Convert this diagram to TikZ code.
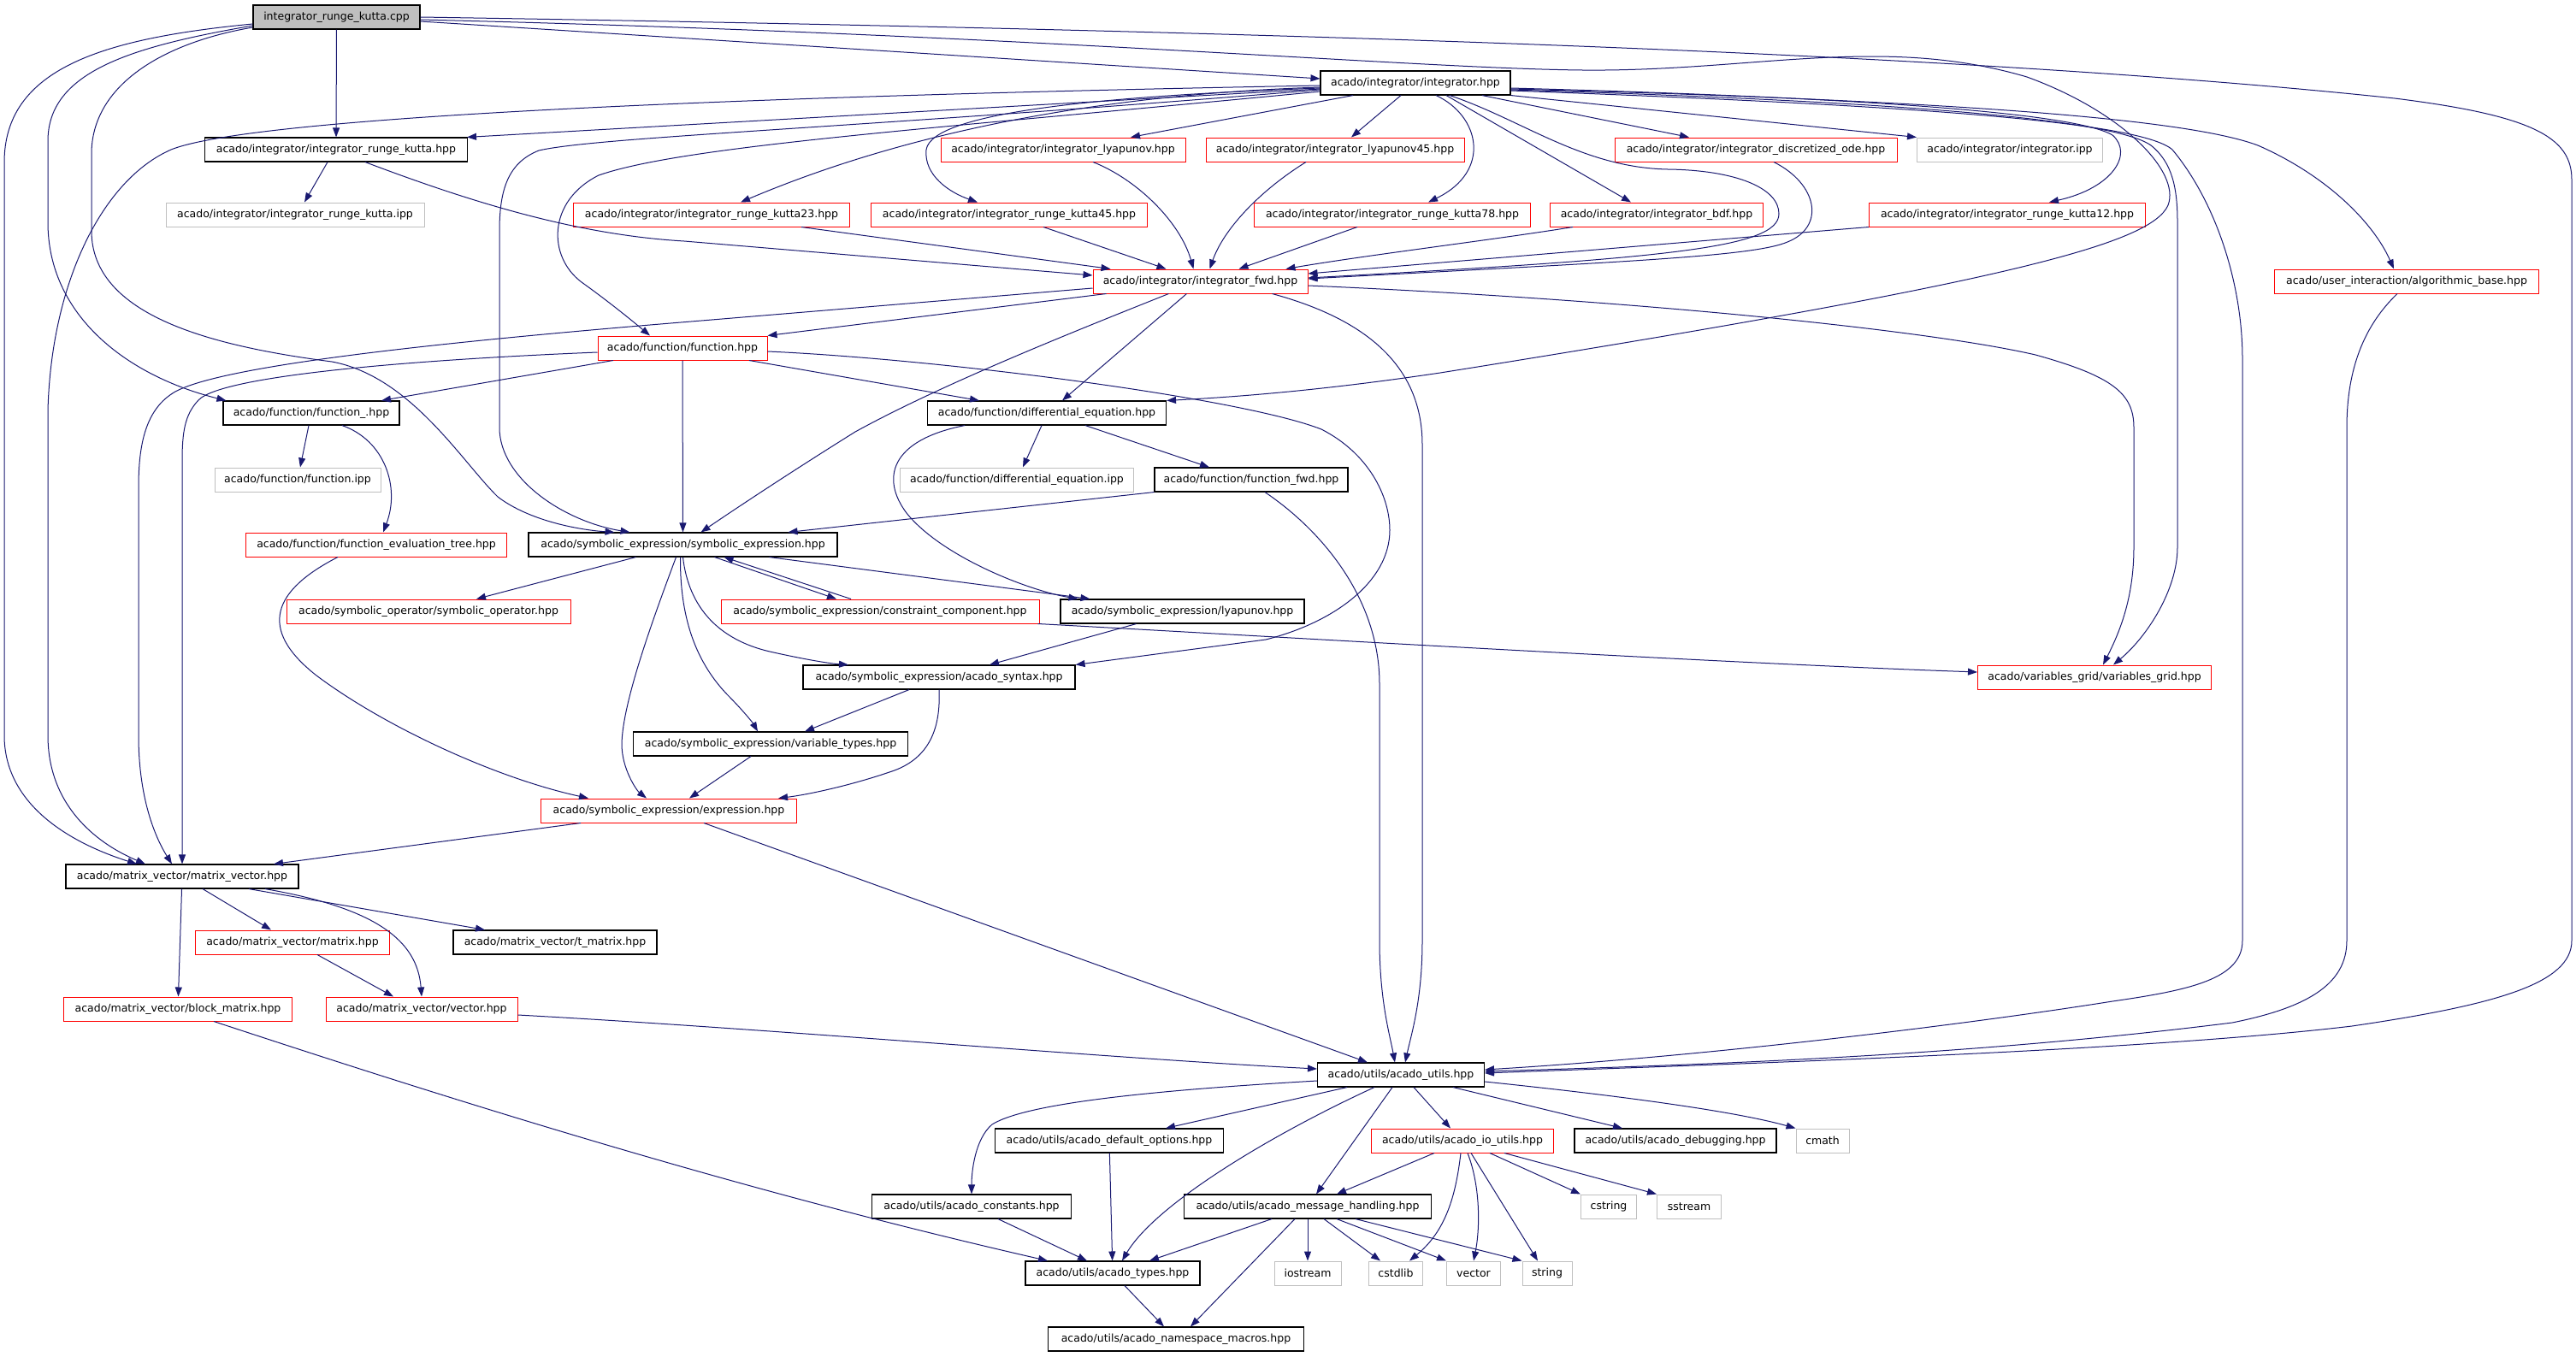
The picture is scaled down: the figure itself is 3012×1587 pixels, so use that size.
\documentclass[tikz,border=0pt]{standalone}
\usepackage{fontspec}
\setmainfont{DejaVu Sans}
\usetikzlibrary{arrows.meta}
\definecolor{edgec}{HTML}{191970}
\definecolor{redc}{HTML}{FF0000}
\definecolor{grayc}{HTML}{BFBFBF}
\definecolor{fillc}{HTML}{BFBFBF}
\begin{document}
\begin{tikzpicture}[x=1pt,y=-1pt,
  nbase/.style={rectangle, minimum height=28pt, inner sep=0pt, font=\fontsize{12.5}{15}\selectfont, text=black},
  bx/.style={nbase, draw=black, line width=1.1pt},
  rbx/.style={nbase, draw=redc, line width=1pt},
  gbx/.style={nbase, draw=grayc, line width=1pt},
  cbx/.style={nbase, draw=black, fill=fillc, line width=1.1pt},
  ed/.style={draw=edgec, line width=1pt, -{Triangle[length=11pt,width=8pt]}}
]
\useasboundingbox (0,0) rectangle (3012,1587);

% ---------- nodes ----------
\node[cbx, minimum width=195pt] (cpp) at (393.5,20) {integrator\_runge\_kutta.cpp};
\node[bx, minimum width=222pt] (integ) at (1655,97) {acado/integrator/integrator.hpp};

\node[bx, minimum width=307pt] (rkh) at (393,175) {acado/integrator/integrator\_runge\_kutta.hpp};
\node[rbx, minimum width=286pt] (lyap) at (1243,175) {acado/integrator/integrator\_lyapunov.hpp};
\node[rbx, minimum width=302pt] (lyap45) at (1561,175) {acado/integrator/integrator\_lyapunov45.hpp};
\node[rbx, minimum width=330pt] (disc) at (2053,175) {acado/integrator/integrator\_discretized\_ode.hpp};
\node[gbx, minimum width=217pt] (iipp) at (2350,175) {acado/integrator/integrator.ipp};

\node[gbx, minimum width=302pt] (rkipp) at (345,251) {acado/integrator/integrator\_runge\_kutta.ipp};
\node[rbx, minimum width=323pt] (rk23) at (832,251) {acado/integrator/integrator\_runge\_kutta23.hpp};
\node[rbx, minimum width=323pt] (rk45) at (1180,251) {acado/integrator/integrator\_runge\_kutta45.hpp};
\node[rbx, minimum width=323pt] (rk78) at (1628,251) {acado/integrator/integrator\_runge\_kutta78.hpp};
\node[rbx, minimum width=249pt] (bdf) at (1937,251) {acado/integrator/integrator\_bdf.hpp};
\node[rbx, minimum width=323pt] (rk12) at (2347,251) {acado/integrator/integrator\_runge\_kutta12.hpp};

\node[rbx, minimum width=251pt] (fwd) at (1403.5,329) {acado/integrator/integrator\_fwd.hpp};
\node[rbx, minimum width=309pt] (algo) at (2814,329) {acado/user\_interaction/algorithmic\_base.hpp};

\node[rbx, minimum width=198pt] (func) at (798,407) {acado/function/function.hpp};

\node[bx, minimum width=206pt] (func_) at (364,483) {acado/function/function\_.hpp};
\node[bx, minimum width=279pt] (de) at (1224,483) {acado/function/differential\_equation.hpp};

\node[gbx, minimum width=194pt] (fipp) at (348,561) {acado/function/function.ipp};
\node[gbx, minimum width=273pt] (deipp) at (1189,561) {acado/function/differential\_equation.ipp};
\node[bx, minimum width=226pt] (ffwd) at (1463,561) {acado/function/function\_fwd.hpp};

\node[rbx, minimum width=305pt] (fet) at (440,637) {acado/function/function\_evaluation\_tree.hpp};
\node[bx, minimum width=361pt] (sym) at (798.5,637) {acado/symbolic\_expression/symbolic\_expression.hpp};

\node[rbx, minimum width=332pt] (symop) at (501,715) {acado/symbolic\_operator/symbolic\_operator.hpp};
\node[rbx, minimum width=372pt] (cc) at (1029,715) {acado/symbolic\_expression/constraint\_component.hpp};
\node[bx, minimum width=285pt] (lyapsym) at (1382.5,715) {acado/symbolic\_expression/lyapunov.hpp};

\node[bx, minimum width=318pt] (syntax) at (1098,792) {acado/symbolic\_expression/acado\_syntax.hpp};
\node[rbx, minimum width=273pt] (vgrid) at (2449,792) {acado/variables\_grid/variables\_grid.hpp};

\node[bx, minimum width=321pt] (vtypes) at (901,870) {acado/symbolic\_expression/variable\_types.hpp};
\node[rbx, minimum width=299pt] (expr) at (782,948) {acado/symbolic\_expression/expression.hpp};
\node[bx, minimum width=272pt] (mv) at (213,1025) {acado/matrix\_vector/matrix\_vector.hpp};

\node[rbx, minimum width=227pt] (mtx) at (342,1102) {acado/matrix\_vector/matrix.hpp};
\node[bx, minimum width=238pt] (tmatrix) at (649,1102) {acado/matrix\_vector/t\_matrix.hpp};

\node[rbx, minimum width=267pt] (block) at (208,1180) {acado/matrix\_vector/block\_matrix.hpp};
\node[rbx, minimum width=224pt] (vec) at (493,1180) {acado/matrix\_vector/vector.hpp};

\node[bx, minimum width=195pt] (utils) at (1638,1257) {acado/utils/acado\_utils.hpp};

\node[bx, minimum width=267pt] (defopt) at (1297,1334) {acado/utils/acado\_default\_options.hpp};
\node[rbx, minimum width=213pt] (ioutils) at (1710,1334) {acado/utils/acado\_io\_utils.hpp};
\node[bx, minimum width=236pt] (debug) at (1959,1334) {acado/utils/acado\_debugging.hpp};
\node[gbx, minimum width=62pt] (cmath) at (2131,1334) {cmath};

\node[bx, minimum width=233pt] (cnst) at (1136,1411) {acado/utils/acado\_constants.hpp};
\node[bx, minimum width=289pt] (msg) at (1529,1411) {acado/utils/acado\_message\_handling.hpp};
\node[gbx, minimum width=65pt] (cstring) at (1881,1411) {cstring};
\node[gbx, minimum width=75pt] (sstream) at (1975,1411) {sstream};

\node[bx, minimum width=204pt] (types) at (1301,1489) {acado/utils/acado\_types.hpp};
\node[gbx, minimum width=78pt] (iostream) at (1529,1489) {iostream};
\node[gbx, minimum width=63pt] (cstdlib) at (1632,1489) {cstdlib};
\node[gbx, minimum width=63pt] (vectorstd) at (1723,1489) {vector};
\node[gbx, minimum width=58pt] (strg) at (1809,1489) {string};

\node[bx, minimum width=299pt] (ns) at (1375,1566) {acado/utils/acado\_namespace\_macros.hpp};

% ---------- edges from the .cpp ----------
\draw[ed] (cpp) -- (rkh);
\draw[ed] ([yshift=-5]cpp.east) -- ([yshift=5]integ.west);
\draw[ed] ([yshift=-8]cpp.west) .. controls (120,45) and (5,80) .. (5,190) -- (5,860) .. controls (5,940) and (80,985) .. ([xshift=-53]mv.north);
\draw[ed] ([yshift=-10]cpp.west) .. controls (150,55) and (56,85) .. (56,165) -- (56,260) .. controls (56,370) and (150,440) .. ([xshift=4]func_.north west);
\draw[ed] ([yshift=-12]cpp.west) .. controls (190,50) and (107,100) .. (107,180) -- (107,270) .. controls (107,370) and (250,405) .. (388,423) .. controls (480,440) and (540,540) .. (582,581) .. controls (620,610) and (680,620) .. ([xshift=-80]sym.north);
\draw[ed] ([yshift=-3]cpp.east) .. controls (1200,40) and (1650,80) .. (1850,82) .. controls (2050,84) and (2200,40) .. (2370,90) .. controls (2480,130) and (2550,200) .. (2535,240) .. controls (2515,285) and (2350,330) .. (1684,436) .. controls (1550,456) and (1450,464) .. (de.north east);
\draw[ed] (cpp.east) .. controls (1500,36) and (2300,62) .. (2800,115) .. controls (2960,135) and (3007,160) .. (3007,210) -- (3007,1100) .. controls (3007,1150) and (2920,1175) .. (2750,1200) .. controls (2500,1230) and (2000,1245) .. ([yshift=2]utils.east);

% ---------- edges from integrator.hpp ----------
\draw[ed] ([yshift=-7]integ.west) -- ([xshift=-1]rkh.north east);
\draw[ed] ([yshift=-3]integ.west) .. controls (900,112) and (300,135) .. (200,175) .. controls (120,210) and (60,330) .. (56,480) -- (56,860) .. controls (56,940) and (110,985) .. ([xshift=-43]mv.north);
\draw[ed] ([yshift=-8]integ.west) .. controls (1000,150) and (700,160) .. (630,176) .. controls (595,190) and (584,220) .. (584,270) -- (584,500) .. controls (584,560) and (660,610) .. ([xshift=-62]sym.north);
\draw[ed] ([yshift=-10]integ.west) .. controls (1100,150) and (800,170) .. (700,205) .. controls (640,235) and (640,300) .. (680,330) .. controls (715,355) and (745,380) .. ([xshift=-38]func.north);
\draw[ed] ([yshift=-5]integ.west) .. controls (1300,110) and (1070,150) .. ([xshift=34]rk23.north);
\draw[ed] ([yshift=-6]integ.west) .. controls (1300,112) and (1090,130) .. (1083,175) .. controls (1080,205) and (1110,225) .. ([xshift=-37]rk45.north);
\draw[ed] ([xshift=-73]integ.south) -- ([xshift=79]lyap.north);
\draw[ed] ([xshift=-17]integ.south) -- ([xshift=19]lyap45.north);
\draw[ed] ([xshift=24]integ.south) .. controls (1730,135) and (1745,200) .. ([xshift=42]rk78.north);
\draw[ed] ([xshift=36]integ.south) -- ([xshift=-30]bdf.north);
\draw[ed] ([xshift=40]integ.south) .. controls (1780,140) and (1850,196) .. (1950,198) .. controls (2030,199) and (2080,220) .. (2080,250) .. controls (2080,290) and (1950,302) .. ([yshift=4]fwd.east);
\draw[ed] ([xshift=78]integ.south) -- ([xshift=-78]disc.north);
\draw[ed] (integ.south east) -- (iipp.north west);
\draw[ed] ([yshift=-6]integ.east) .. controls (2100,112) and (2420,128) .. (2470,158) .. controls (2495,180) and (2470,220) .. ([xshift=49]rk12.north);
\draw[ed] ([yshift=-8]integ.east) .. controls (2200,118) and (2470,138) .. (2515,170) .. controls (2540,190) and (2546,220) .. (2546,260) -- (2546,640) .. controls (2546,690) and (2510,745) .. ([xshift=22]vgrid.north);
\draw[ed] ([yshift=-9]integ.east) .. controls (2200,122) and (2500,140) .. (2540,175) .. controls (2590,235) and (2622,330) .. (2622,420) -- (2622,1100) .. controls (2622,1145) and (2560,1158) .. (2470,1171) .. controls (2300,1198) and (2000,1235) .. ([yshift=6]utils.east);
\draw[ed] ([yshift=-7]integ.east) .. controls (2300,118) and (2560,140) .. (2640,170) .. controls (2720,205) and (2775,260) .. ([xshift=-15]algo.north);

% ---------- into integrator_fwd.hpp ----------
\draw[ed] ([xshift=-10]rkh.south) -- ([xshift=11]rkipp.north);
\draw[ed] ([xshift=34]rkh.south) .. controls (560,240) and (680,275) .. (800,282) -- ([yshift=7]fwd.west);
\draw[ed] ([xshift=105]rk23.south) -- ([xshift=-105]fwd.north);
\draw[ed] ([xshift=40]rk45.south) -- ([xshift=-40]fwd.north);
\draw[ed] ([xshift=35]lyap.south) .. controls (1330,210) and (1380,260) .. ([xshift=-8]fwd.north);
\draw[ed] ([xshift=-34]lyap45.south) .. controls (1470,225) and (1430,270) .. ([xshift=11]fwd.north);
\draw[ed] ([xshift=-41]rk78.south) -- ([xshift=45]fwd.north);
\draw[ed] ([xshift=-98]bdf.south) .. controls (1750,280) and (1600,298) .. ([xshift=100]fwd.north);
\draw[ed] (rk12.south west) -- ([yshift=9]fwd.east);
\draw[ed] ([xshift=21]disc.south) .. controls (2125,215) and (2135,265) .. (2090,283) .. controls (2050,300) and (1900,306) .. ([yshift=3]fwd.east);

% ---------- from integrator_fwd.hpp ----------
\draw[ed] ([xshift=-110]fwd.south) -- (func.north east);
\draw[ed] ([yshift=-8]fwd.west) -- (760,380) .. controls (500,402) and (260,428) .. (205,458) .. controls (170,478) and (162,520) .. (162,570) -- (162,860) .. controls (162,940) and (185,985) .. ([xshift=-12]mv.north);
\draw[ed] ([xshift=-37]fwd.south) .. controls (1250,390) and (1100,450) .. (1000,505) .. controls (920,555) and (860,595) .. ([xshift=21]sym.north);
\draw[ed] ([xshift=-16]fwd.south) -- ([xshift=18]de.north);
\draw[ed] ([xshift=84]fwd.south) .. controls (1585,370) and (1663,420) .. (1663,520) -- (1663,1100) .. controls (1663,1170) and (1650,1210) .. ([xshift=5]utils.north);
\draw[ed] ([yshift=-5]fwd.east) .. controls (1900,350) and (2250,385) .. (2380,415) .. controls (2470,440) and (2495,460) .. (2495,500) -- (2495,640) .. controls (2495,700) and (2478,740) .. ([xshift=10]vgrid.north);

% ---------- algorithmic_base ----------
\draw[ed] ([xshift=-11]algo.south) .. controls (2765,380) and (2744,430) .. (2744,500) -- (2744,1100) .. controls (2744,1150) and (2700,1178) .. (2610,1196) .. controls (2300,1235) and (2000,1245) .. ([yshift=4]utils.east);

% ---------- function.hpp ----------
\draw[ed] ([xshift=-81]func.south) -- ([xshift=82]func_.north);
\draw[ed] ([yshift=-5]func.west) .. controls (500,420) and (260,438) .. (232,468) .. controls (216,485) and (213,505) .. (213,540) -- (mv.north);
\draw[ed] (func) -- (sym);
\draw[ed] ([xshift=78]func.south) -- ([xshift=-79]de.north);
\draw[ed] ([yshift=-4]func.east) .. controls (1100,420) and (1450,465) .. (1545,502) .. controls (1600,530) and (1625,580) .. (1625,620) .. controls (1625,680) and (1560,728) .. (1480,748) -- (syntax.north east);

% ---------- function_.hpp ----------
\draw[ed] (func_) -- (fipp);
\draw[ed] ([xshift=36]func_.south) .. controls (450,515) and (468,570) .. ([xshift=8]fet.north);
\draw[ed] ([xshift=-45]fet.south) .. controls (320,690) and (300,735) .. (370,790) .. controls (450,850) and (580,910) .. ([xshift=-94]expr.north);

% ---------- differential_equation.hpp ----------
\draw[ed] ([xshift=-6]de.south) -- ([xshift=7]deipp.north);
\draw[ed] ([xshift=45]de.south) -- ([xshift=-49]ffwd.north);
\draw[ed] ([xshift=-96]de.south) .. controls (1040,515) and (1030,560) .. (1060,600) .. controls (1100,650) and (1200,690) .. ([xshift=-122]lyapsym.north);

% ---------- function_fwd.hpp ----------
\draw[ed] (ffwd.south west) -- ([xshift=123]sym.north);
\draw[ed] ([xshift=16]ffwd.south) .. controls (1545,620) and (1613,700) .. (1613,800) -- (1613,1100) .. controls (1613,1170) and (1625,1210) .. ([xshift=-7]utils.north);

% ---------- symbolic_expression.hpp ----------
\draw[ed] ([xshift=-55]sym.south) -- ([xshift=56]symop.north);
\draw[ed] ([xshift=37]sym.south) -- ([xshift=-51]cc.north);
\draw[ed] ([xshift=-34]cc.north) -- ([xshift=48]sym.south);
\draw[ed] ([xshift=101]sym.south) -- ([xshift=-108]lyapsym.north);
\draw[ed] (sym.south) .. controls (805,710) and (840,748) .. (900,762) .. controls (940,771) and (970,776) .. ([xshift=-106]syntax.north);
\draw[ed] ([xshift=-3]sym.south) .. controls (795,720) and (812,772) .. (850,812) .. controls (868,830) and (880,845) .. ([xshift=-15]vtypes.north);
\draw[ed] ([xshift=-8]sym.south) .. controls (765,720) and (728,820) .. (727,870) .. controls (727,900) and (745,925) .. ([xshift=-26]expr.north);

\draw[ed] ([xshift=-54]lyapsym.south) -- ([xshift=59]syntax.north);
\draw[ed] ([xshift=-2]cc.south east) .. controls (1500,745) and (2000,775) .. ([yshift=6]vgrid.west);

\draw[ed] ([xshift=-35]syntax.south) -- ([xshift=40]vtypes.north);
\draw[ed] (syntax.south) .. controls (1100,850) and (1088,888) .. (1040,903) .. controls (990,920) and (940,930) .. ([xshift=128]expr.north);
\draw[ed] ([xshift=-23]vtypes.south) -- ([xshift=24]expr.north);

\draw[ed] ([xshift=-103]expr.south) -- ([xshift=107]mv.north);
\draw[ed] ([xshift=41]expr.south) -- ([xshift=-39]utils.north);

% ---------- matrix_vector ----------
\draw[ed] (mv) -- (block);
\draw[ed] ([xshift=24]mv.south) -- ([xshift=-25]mtx.north);
\draw[ed] ([xshift=97]mv.south) .. controls (440,1062) and (488,1100) .. (vec.north);
\draw[ed] ([xshift=78]mv.south) -- ([xshift=-82]tmatrix.north);
\draw[ed] ([xshift=29]mtx.south) -- ([xshift=-33]vec.north);
\draw[ed] ([xshift=42]block.south) .. controls (600,1310) and (900,1400) .. ([xshift=-76]types.north);
\draw[ed] ([yshift=-7]vec.east) .. controls (900,1203) and (1300,1238) .. ([yshift=7]utils.west);

% ---------- acado_utils ----------
\draw[ed] ([xshift=15]utils.south) -- ([xshift=-14]ioutils.north);
\draw[ed] ([xshift=61]utils.south) -- ([xshift=-62]debug.north);
\draw[ed] ([yshift=-8]utils.east) .. controls (1900,1282) and (2030,1300) .. (cmath.north west);
\draw[ed] ([xshift=-10]utils.south) -- ([xshift=10]msg.north);
\draw[ed] ([xshift=-63]utils.south) -- ([xshift=66]defopt.north);
\draw[ed] ([yshift=-7]utils.west) .. controls (1350,1275) and (1200,1290) .. (1160,1315) .. controls (1140,1332) and (1136,1370) .. (cnst.north);
\draw[ed] ([xshift=-31]utils.south) .. controls (1480,1330) and (1350,1410) .. ([xshift=11]types.north);

\draw[ed] ([xshift=-33]ioutils.south) -- ([xshift=34]msg.north);
\draw[ed] ([xshift=-2]ioutils.south) .. controls (1702,1400) and (1690,1440) .. ([xshift=16]cstdlib.north);
\draw[ed] ([xshift=6]ioutils.south) .. controls (1732,1390) and (1730,1440) .. (vectorstd.north);
\draw[ed] ([xshift=10]ioutils.south) -- ([xshift=-11]strg.north);
\draw[ed] ([xshift=32]ioutils.south) -- (cstring.north west);
\draw[ed] ([xshift=49]ioutils.south) -- (sstream.north west);

\draw[ed] ([xshift=-42]msg.south) -- ([xshift=43]types.north);
\draw[ed] ([xshift=-15]msg.south) -- ([xshift=17]ns.north);
\draw[ed] (msg) -- (iostream);
\draw[ed] ([xshift=19]msg.south) -- ([xshift=-18]cstdlib.north);
\draw[ed] ([xshift=34]msg.south) -- (vectorstd.north west);
\draw[ed] ([xshift=56]msg.south) -- (strg.north west);

\draw[ed] (defopt) -- (types);
\draw[ed] ([xshift=31]cnst.south) -- ([xshift=-30]types.north);
\draw[ed] ([xshift=14]types.south) -- ([xshift=-14]ns.north);
\end{tikzpicture}
\end{document}
